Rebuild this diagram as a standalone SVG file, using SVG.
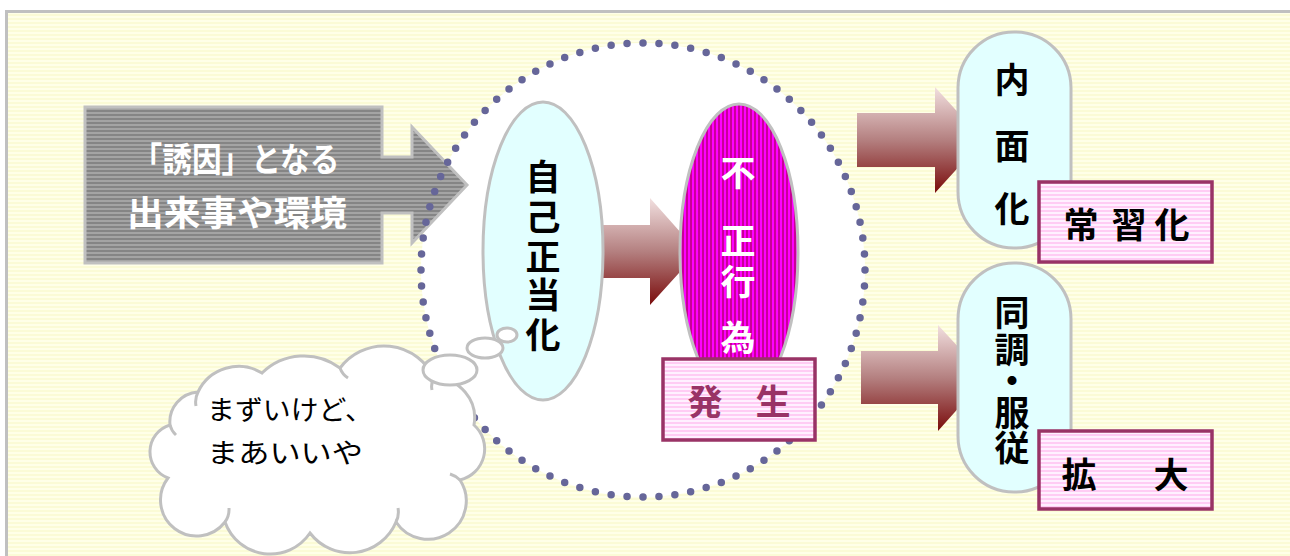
<svg xmlns="http://www.w3.org/2000/svg" width="1290" height="556" viewBox="0 0 1290 556">
<defs>
<pattern id="bgStripe" width="8" height="4" patternUnits="userSpaceOnUse">
<rect width="8" height="4" fill="#ffffe8"/>
<rect y="2" width="8" height="2" fill="#fbfbd6"/>
</pattern>
<pattern id="grayStripe" width="8" height="4" patternUnits="userSpaceOnUse">
<rect width="8" height="4" fill="#a4a4a4"/>
<rect y="2" width="8" height="2" fill="#858585"/>
</pattern>
<pattern id="magStripe" width="4" height="8" patternUnits="userSpaceOnUse">
<rect width="4" height="8" fill="#ff00ff"/>
<rect x="2" width="2" height="8" fill="#c80096"/>
</pattern>
<pattern id="pinkStripe" width="8" height="4" patternUnits="userSpaceOnUse">
<rect width="8" height="4" fill="#fff0ff"/>
<rect y="2" width="8" height="2" fill="#ffccf4"/>
</pattern>
<linearGradient id="arrowGrad" x1="0" y1="0" x2="0" y2="1">
<stop offset="0" stop-color="#f2e0e0"/>
<stop offset="0.5" stop-color="#b48080"/>
<stop offset="1" stop-color="#7a0c0c"/>
</linearGradient>
<style>
.jp{font-family:"Noto Sans CJK JP","Noto Sans CJK SC",sans-serif;}
.vb{font-size:35px;font-weight:bold;text-anchor:middle;dominant-baseline:central;}
.blk{fill:#000;}
.wht{fill:#fff;}
.pill{fill:#e2ffff;stroke:#c0c0c0;stroke-width:3;}
.tag{fill:url(#pinkStripe);stroke:#993366;stroke-width:3.5;}
.grad{fill:url(#arrowGrad);}
.cloud{fill:#fff;stroke:#c0c0c0;stroke-width:3;}
</style>
</defs>

<rect x="0" y="0" width="1290" height="556" fill="#fff"/>
<rect x="6.5" y="11.5" width="1292" height="560" fill="url(#bgStripe)" stroke="#c0c0c0" stroke-width="3"/>

<g id="circle-bg">
<ellipse cx="643" cy="270" rx="222" ry="227" fill="#fff"/>
</g>

<g id="trigger">
<path d="M85,107 H382 V157 H412 V127 L467,185 L412,243 V213 H382 V263 H85 Z" fill="url(#grayStripe)" stroke="#c0c0c0" stroke-width="3"/>
<text class="jp wht" x="236" y="172" font-size="34" font-weight="bold" text-anchor="middle" textLength="207" lengthAdjust="spacingAndGlyphs">「誘因」となる</text>
<text class="jp wht" x="237" y="226" font-size="35" font-weight="bold" text-anchor="middle" textLength="220" lengthAdjust="spacingAndGlyphs">出来事や環境</text>
</g>

<g id="circle-dots">
<ellipse cx="643" cy="270" rx="222" ry="227" fill="none" stroke="#666699" stroke-width="7.5" stroke-linecap="round" stroke-dasharray="0 1" pathLength="88"/>
</g>

<g id="connectors">
<path class="grad" d="M603,225 H650 V198 L698,252 L650,305 V278 H603 Z"/>
<path class="grad" d="M857,113 H935 V87 L983,140 L935,193 V167 H857 Z"/>
<path class="grad" d="M861,351 H938 V325 L986,377 L938,431 V404 H861 Z"/>
</g>

<g id="self-justify">
<ellipse cx="543" cy="251" rx="60" ry="149" class="pill"/>
<text class="jp vb blk"><tspan x="543" y="174">自</tspan><tspan x="543" y="214">己</tspan><tspan x="543" y="254">正</tspan><tspan x="543" y="292">当</tspan><tspan x="543" y="332">化</tspan></text>
</g>

<g id="misconduct">
<ellipse cx="739" cy="252" rx="59" ry="148" fill="url(#magStripe)" stroke="#c0c0c0" stroke-width="3"/>
<text class="jp vb wht" font-size="33"><tspan x="738" y="170">不</tspan><tspan x="738" y="238">正</tspan><tspan x="738" y="279">行</tspan><tspan x="738" y="335">為</tspan></text>
</g>

<g id="occur">
<rect x="663" y="359" width="152" height="81" class="tag"/>
<text class="jp vb" fill="#993366" font-size="34"><tspan x="705" y="399">発</tspan><tspan x="773" y="399">生</tspan></text>
</g>

<g id="thought">
<path class="cloud" d="M168,478 A28,28 0 0 1 170,425 A30,30 0 0 1 198,392 A45,45 0 0 1 262,373 A60,60 0 0 1 340,368 A55,55 0 0 1 434,378 A40,40 0 0 1 474,425 A32,32 0 0 1 460,480 A38,38 0 0 1 396,522 A50,50 0 0 1 310,533 A48,48 0 0 1 225,522 A30,30 0 0 1 168,478 Z"/>
<path d="M170,425 a20,20 0 0 0 6,10 M198,392 a22,22 0 0 0 -2,14 M340,368 a20,20 0 0 0 8,10 M434,378 a16,16 0 0 0 -2,12 M460,480 a24,24 0 0 0 -10,-6 M396,522 a22,22 0 0 0 2,-14 M225,522 a22,22 0 0 0 4,-14" fill="none" stroke="#c0c0c0" stroke-width="3"/>
<ellipse cx="450" cy="370" rx="27" ry="15" class="cloud"/>
<ellipse cx="485" cy="348" rx="18" ry="10" class="cloud"/>
<ellipse cx="507" cy="335" rx="10" ry="7" class="cloud"/>
<text class="jp" x="207" y="420" font-size="27" fill="#000" textLength="166" lengthAdjust="spacingAndGlyphs">まずいけど、</text>
<text class="jp" x="207" y="463" font-size="27" fill="#000" textLength="156" lengthAdjust="spacingAndGlyphs">まあいいや</text>
</g>

<g id="internalize">
<rect x="958" y="32" width="113" height="216" rx="56" ry="56" class="pill"/>
<text class="jp vb blk"><tspan x="1012" y="77">内</tspan><tspan x="1012" y="143">面</tspan><tspan x="1012" y="206">化</tspan></text>
</g>

<g id="habit">
<rect x="1039" y="182" width="173" height="80" class="tag"/>
<text class="jp vb blk"><tspan x="1081" y="222">常</tspan><tspan x="1129" y="222">習</tspan><tspan x="1172" y="222">化</tspan></text>
</g>

<g id="conform">
<rect x="958" y="263" width="113" height="229" rx="56" ry="56" class="pill"/>
<text class="jp vb blk" font-size="32"><tspan x="1012" y="310">同</tspan><tspan x="1012" y="347">調</tspan><tspan x="1012" y="378">・</tspan><tspan x="1012" y="410">服</tspan><tspan x="1012" y="445">従</tspan></text>
</g>

<g id="expand">
<rect x="1039" y="431" width="173" height="78" class="tag"/>
<text class="jp vb blk"><tspan x="1079" y="472">拡</tspan><tspan x="1171" y="472">大</tspan></text>
</g>
</svg>
